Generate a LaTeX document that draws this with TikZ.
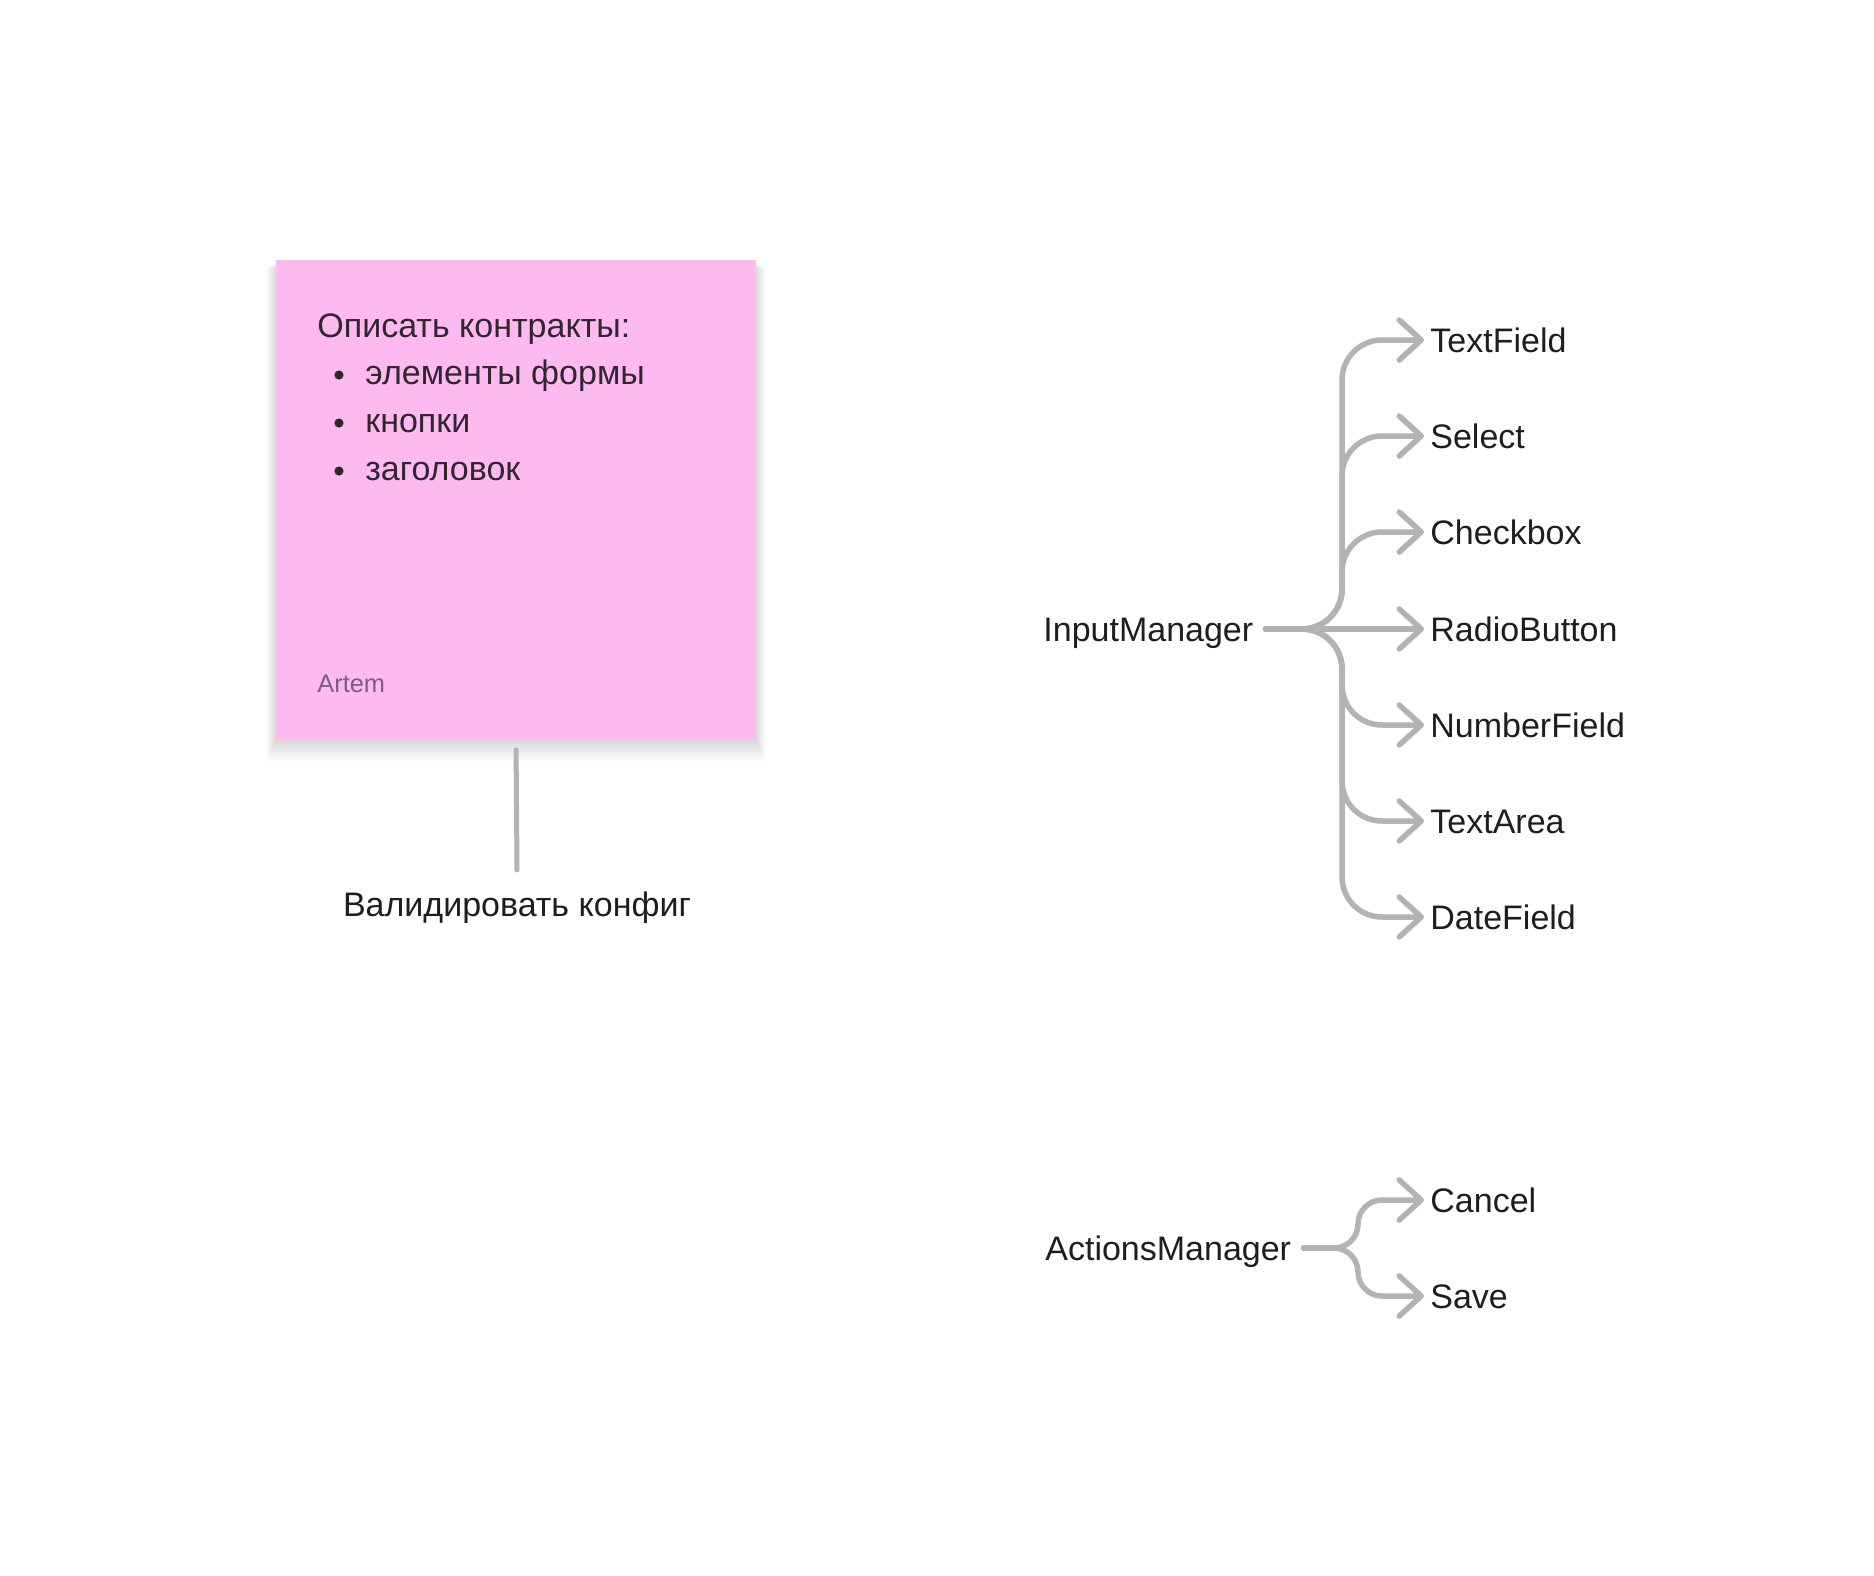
\documentclass[tikz,border=0pt]{standalone}
\usepackage{fontspec}
\setmainfont{Liberation Sans}
\usetikzlibrary{arrows.meta}

\definecolor{notepink}{HTML}{FDBAF0}
\definecolor{noteink}{HTML}{31252F}
\definecolor{noteauthor}{HTML}{7E5E7B}
\definecolor{wiregray}{HTML}{B3B3B3}
\definecolor{ink}{HTML}{1E1E1E}

\begin{document}
\begin{tikzpicture}[x=0.5pt, y=-0.5pt,
  mgr/.style={font=\fontsize{17}{20}\selectfont, text=ink, inner sep=6pt, anchor=base west},
  leaf/.style={font=\fontsize{17}{20}\selectfont, text=ink, inner sep=3pt, anchor=base west},
  notetext/.style={font=\fontsize{17}{20}\selectfont, text=noteink, inner sep=0pt, anchor=base west},
  branch/.style={draw=wiregray, line width=2.75pt, line cap=round, line join=round,
    rounded corners=20pt, -{Straight Barb[length=11pt,width=20pt,round]}},
  stem/.style={draw=wiregray, line width=2.5pt, line cap=round}]
\useasboundingbox (0,0) rectangle (1874,1575);
\fill[white] (0,0) rectangle (1874,1575);

% sticky note
\foreach \d in {1,...,12}
  \fill[black, opacity=0.011] (276-0.8*\d, 262+0.5*\d) rectangle (756+0.8*\d, 741+1.7*\d);
\node[fill=notepink, minimum width=240pt, minimum height=240pt, inner sep=0pt] (note) at (516,499.5) {};
\node[notetext] (title) at (317,337) {Описать контракты:};
\node[notetext] (item1) at (365,384) {элементы формы};
\node[notetext] (item2) at (365,432) {кнопки};
\node[notetext] (item3) at (365,480) {заголовок};
\foreach \it in {item1,item2,item3}
  \fill[noteink] ([xshift=-13pt,yshift=4.5pt]\it.base west) circle (2.3pt);
\node[notetext, font=\fontsize{12.7}{14}\selectfont, text=noteauthor] (author) at (317,692) {Artem};

\node[font=\fontsize{17}{20}\selectfont, text=ink, inner sep=10.5pt, anchor=base] (validate) at (517,916) {Валидировать конфиг};
\draw[stem, shorten <=5pt] (note.south) -- (validate.north);

% input tree (baseline sits 12px under the wire)
\node[mgr] (input) at (1031,641) {InputManager};
\node[leaf] (textfield) at (1424,352) {TextField};
\node[leaf] (select) at (1424,448) {Select};
\node[leaf] (checkbox) at (1424,544) {Checkbox};
\node[leaf] (radio) at (1424,641) {RadioButton};
\node[leaf] (number) at (1424,737) {NumberField};
\node[leaf] (textarea) at (1424,833) {TextArea};
\node[leaf] (datefield) at (1424,929) {DateField};
\coordinate (input-out) at ([yshift=6pt]input.base east);
\foreach \leafname in {textfield,select,checkbox,radio,number,textarea,datefield}
  \coordinate (\leafname-in) at ([yshift=6pt]\leafname.base west);

\foreach \leafname in {textfield,select,checkbox,number,textarea,datefield}
  \draw[branch] (input-out) -- (1342,629) -- (1342,0 |- \leafname-in) -- (\leafname-in);
\draw[branch] (input-out) -- (radio-in);

% actions tree
\node[mgr] (actions) at (1033,1260) {ActionsManager};
\node[leaf] (cancel) at (1424,1212) {Cancel};
\node[leaf] (save) at (1424,1308) {Save};
\coordinate (actions-out) at ([yshift=6pt]actions.base east);
\coordinate (cancel-in) at ([yshift=6pt]cancel.base west);
\coordinate (save-in) at ([yshift=6pt]save.base west);

\draw[branch, rounded corners=12pt] (actions-out) -- (1358,1248) -- (1358,1200) -- (cancel-in);
\draw[branch, rounded corners=12pt] (actions-out) -- (1358,1248) -- (1358,1296) -- (save-in);
\end{tikzpicture}
\end{document}
